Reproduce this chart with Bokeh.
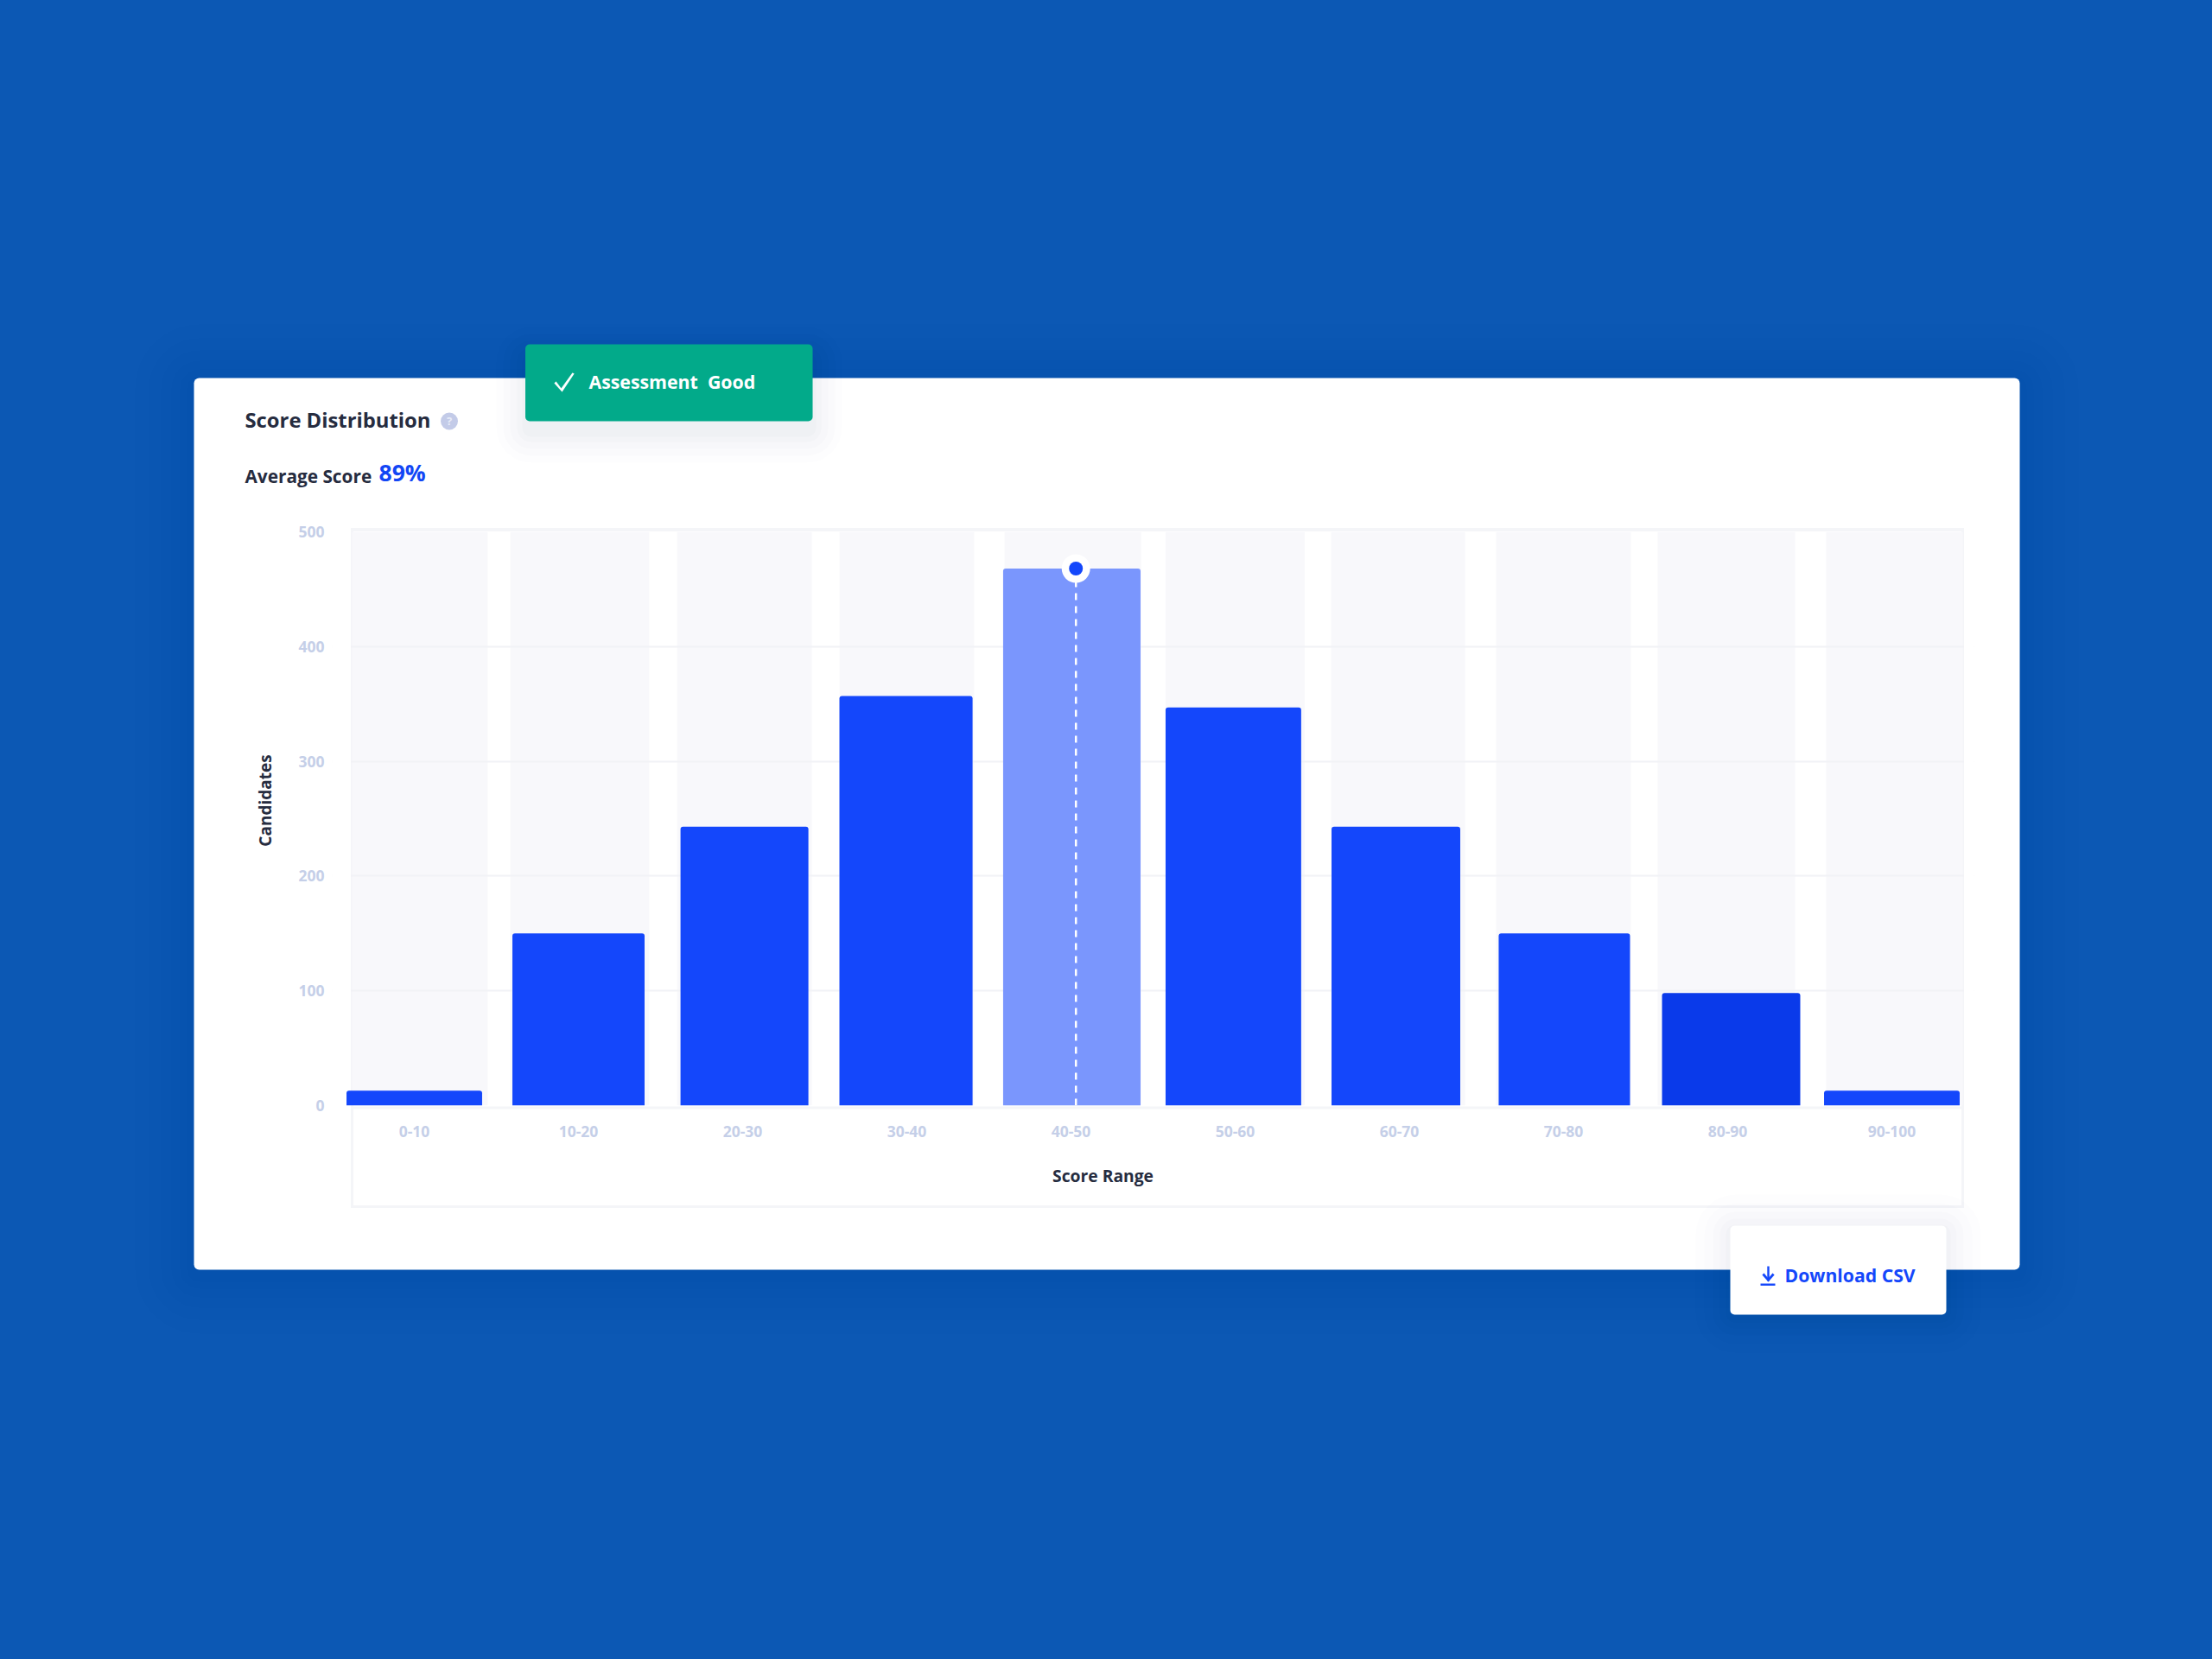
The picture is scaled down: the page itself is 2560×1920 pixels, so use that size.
from bokeh.embed import file_html
from bokeh.resources import INLINE
from bokeh.plotting import figure
from bokeh.models import (BoxAnnotation, ColumnDataSource, FactorRange, FixedTicker, Label,
                          PolyAnnotation, Range1d)

# ---- data ----
categories = ["0-10", "10-20", "20-30", "30-40", "40-50", "50-60", "60-70", "70-80", "80-90", "90-100"]
candidates = [13, 150, 243, 357, 468, 347, 243, 150, 98, 13]
y_ticks = [0, 100, 200, 300, 400, 500]
highlight = "40-50"
title_text = "Score Distribution"
average_label = "Average Score"
average_value = "89%"
tag_text = "Assessment\u00a0\u00a0Good"
button_text = "Download CSV"
x_title = "Score Range"
y_title = "Candidates"

# ---- styles ----
BG = "#0c58b4"
BAR = "#1447fb"
BAR_HI = "#7a96fd"
BAR_DARK = "#0a3aea"
TRACK = "#f8f8fb"
GRID = "#f1f2f6"
MUTED = "#c5cfe8"
INK = "#262c3f"
GREEN = "#02aa8a"
BORDER = "#f4f5f8"
FONT = "Open Sans"

# per-category layout nudges (in category units), the source's bars are not evenly set
bar_width = [.826, .805, .779, .811, .837, .826, .784, .800, .842, .826]
bar_shift = [0, 0, 0.011, -0.005, 0.005, -0.011, -0.021, 0.005, 0.021, 0]
track_width = [.826, .847, .821, .821, .832, .847, .816, .821, .837, .832]
track_shift = [0.034, 0.008, 0.011, 0, 0.011, 0, -0.008, 0, -0.008, 0.016]

W, H = 2560, 1920

FRAME_L, FRAME_R, FRAME_T, FRAME_B = 384, 2284, 615, 1279
CARD_L, CARD_R, CARD_T, CARD_B = 224, 2337, 437, 1469
BOX_L, BOX_R, BOX_T, BOX_B = 407, 2271, 612, 1396

# ---- back layer: page, card, tag, button, texts (frame = whole canvas) ----
back = figure(width=W, height=H, output_backend="svg", toolbar_location=None,
              x_range=Range1d(0, W), y_range=Range1d(H, 0),
              x_axis_location=None, y_axis_location=None,
              min_border=0, min_border_left=0, min_border_right=0, min_border_top=0, min_border_bottom=0)
back.grid.visible = False
back.outline_line_color = None
back.background_fill_color = BG
back.border_fill_color = BG


def box(fig, l, r, t, b, color="white", alpha=1.0, radius=0):
    fig.add_layout(BoxAnnotation(left=l, right=r, top=t, bottom=b,
                                 left_units="canvas", right_units="canvas",
                                 top_units="canvas", bottom_units="canvas",
                                 fill_color=color, fill_alpha=alpha, line_color=None,
                                 border_radius=radius))


def text(x, y, s, size, color=INK, align="left", angle=0):
    back.add_layout(Label(x=x, y=y, x_units="canvas", y_units="canvas", text=s,
                          text_font=FONT, text_font_style="bold", text_font_size=f"{size}px",
                          text_color=color, text_align=align, text_baseline="middle",
                          angle=angle, angle_units="deg"))


def poly(xs, ys, color):
    back.add_layout(PolyAnnotation(xs=xs, ys=ys, xs_units="canvas", ys_units="canvas",
                                   fill_color=color, fill_alpha=1, line_color=color, line_width=0.5))


# card shadow on the blue, then the card
for d in (68, 52, 38, 26, 16, 8):
    box(back, CARD_L - d, CARD_R + d, CARD_T - d + 6, CARD_B + d + 6, "#06306b", 0.009, radius=d + 6)
box(back, CARD_L, CARD_R, CARD_T, CARD_B, radius=6)

# chart box
box(back, BOX_L - 1.5, BOX_R + 1.5, BOX_T - 1.5, BOX_T + 2.5, BORDER)
box(back, BOX_L - 1.5, BOX_R + 1.5, BOX_B - 1.5, BOX_B + 1.5, BORDER)
box(back, BOX_R - 1.5, BOX_R + 1.5, BOX_T, BOX_B, BORDER)
box(back, BOX_L - 1.5, BOX_L + 1.5, BOX_T, BOX_B, BORDER)
box(back, BOX_L, BOX_R, 1280, 1283, BORDER)

# tag
for d, a in ((34, .008), (26, .01), (18, .012), (10, .014), (4, .016)):
    box(back, 608 - d, 940 + d, 398 - d + 14, 487 + d + 14, "#1a2a5a", a, radius=d + 6)
box(back, 607.5, 940, 398, 487, GREEN, radius=5)
poly([641, 643, 649, 662, 664, 650], [443, 441, 449, 431, 432, 453], "white")
text(681, 440.5, tag_text, 21.3, "white")

# button
for d, a in ((40, .006), (30, .008), (20, .01), (12, .012), (5, .014)):
    box(back, 2002 - d, 2252 + d, 1418 - d + 4, 1521 + d + 4, "#1a2a5a", a, radius=d + 6)
box(back, 2002, 2252, 1418, 1521, radius=5)
box(back, 2044.8, 2047.2, 1465, 1482, BAR)
box(back, 2037, 2054, 1485, 1487.4, BAR)
poly([2039, 2041, 2046, 2051, 2053, 2046], [1475, 1473, 1479, 1473, 1475, 1483], BAR)
text(2065, 1475, button_text, 21.2, BAR)

# header texts and axis titles
text(283, 485, title_text, 23.8)
box(back, 509.5, 529.5, 477, 497, "#c3cbe8", radius=10)
text(519.5, 486.5, "?", 13, "#e8ecf8", align="center")
text(283, 550.5, average_label, 20.8)
text(438, 546, average_value, 26.5, "#1246f5")
text(1276, 1360, x_title, 19.3, align="center")
text(306, 926, y_title, 19, align="center", angle=90)

# ---- front layer: the chart itself, transparent round the bars ----
p = figure(width=W, height=H, output_backend="svg", toolbar_location=None,
           x_range=FactorRange(factors=categories, factor_padding=0, range_padding=0),
           y_range=Range1d(0, 500),
           min_border_left=FRAME_L, min_border_right=W - FRAME_R,
           min_border_top=FRAME_T, min_border_bottom=H - FRAME_B,
           styles={"position": "absolute", "left": "0px", "top": "0px"})
p.border_fill_color = None
p.background_fill_color = None
p.outline_line_color = None
p.xgrid.visible = False
p.ygrid.ticker = FixedTicker(ticks=y_ticks)
p.ygrid.grid_line_color = GRID
p.ygrid.grid_line_width = 2

for ax in (p.xaxis[0], p.yaxis[0]):
    ax.axis_line_color = None
    ax.major_tick_line_color = None
    ax.minor_tick_line_color = None
    ax.major_label_text_color = MUTED
    ax.major_label_text_font = FONT
    ax.major_label_text_font_style = "bold"
    ax.major_label_text_font_size = "17.5px"
p.yaxis[0].ticker = FixedTicker(ticks=y_ticks)
p.yaxis[0].major_label_standoff = 3
p.xaxis[0].major_label_standoff = 17

# masks that end the grid at the chart box
m = BoxAnnotation(left=FRAME_L, right=BOX_L - 1.5, top=FRAME_T, bottom=1260, left_units="canvas", right_units="canvas",
                  top_units="canvas", bottom_units="canvas", fill_color="white", fill_alpha=1, line_color=None, level="underlay")
p.add_layout(m)
m = BoxAnnotation(left=BOX_R + 1.5, right=FRAME_R, top=FRAME_T, bottom=FRAME_B, left_units="canvas", right_units="canvas",
                  top_units="canvas", bottom_units="canvas", fill_color="white", fill_alpha=1, line_color=None, level="underlay")
p.add_layout(m)

tracks = ColumnDataSource(dict(x=[(c, s) for c, s in zip(categories, track_shift)],
                               w=track_width, top=[y_ticks[-1]] * len(categories)))
p.vbar(x="x", width="w", bottom=0, top="top", source=tracks, fill_color=TRACK, line_color=None, level="underlay")

colors = [BAR_HI if c == highlight else BAR for c in categories]
colors[categories.index("80-90")] = BAR_DARK
bars = ColumnDataSource(dict(x=[(c, s) for c, s in zip(categories, bar_shift)],
                             w=bar_width, top=candidates, color=colors))
p.vbar(x="x", width="w", bottom=0, top="top", source=bars, fill_color="color", line_color=None,
       border_radius={"top_left": 3, "top_right": 3, "bottom_left": 0, "bottom_right": 0})

peak = candidates[categories.index(highlight)]
mark_x = [(highlight, 0.03)]
p.segment(x0=mark_x, x1=mark_x, y0=[0], y1=[peak], line_color="white", line_width=2.5, line_dash="8 7")
p.scatter(x=mark_x, y=[peak], size=33, fill_color="white", line_color=None)
p.scatter(x=mark_x, y=[peak], size=16, fill_color=BAR, line_color=None)

html = file_html([back, p], INLINE)
html = html.replace("<body>", f'<body style="background:{BG}">')
open("out.html", "w").write(html)
